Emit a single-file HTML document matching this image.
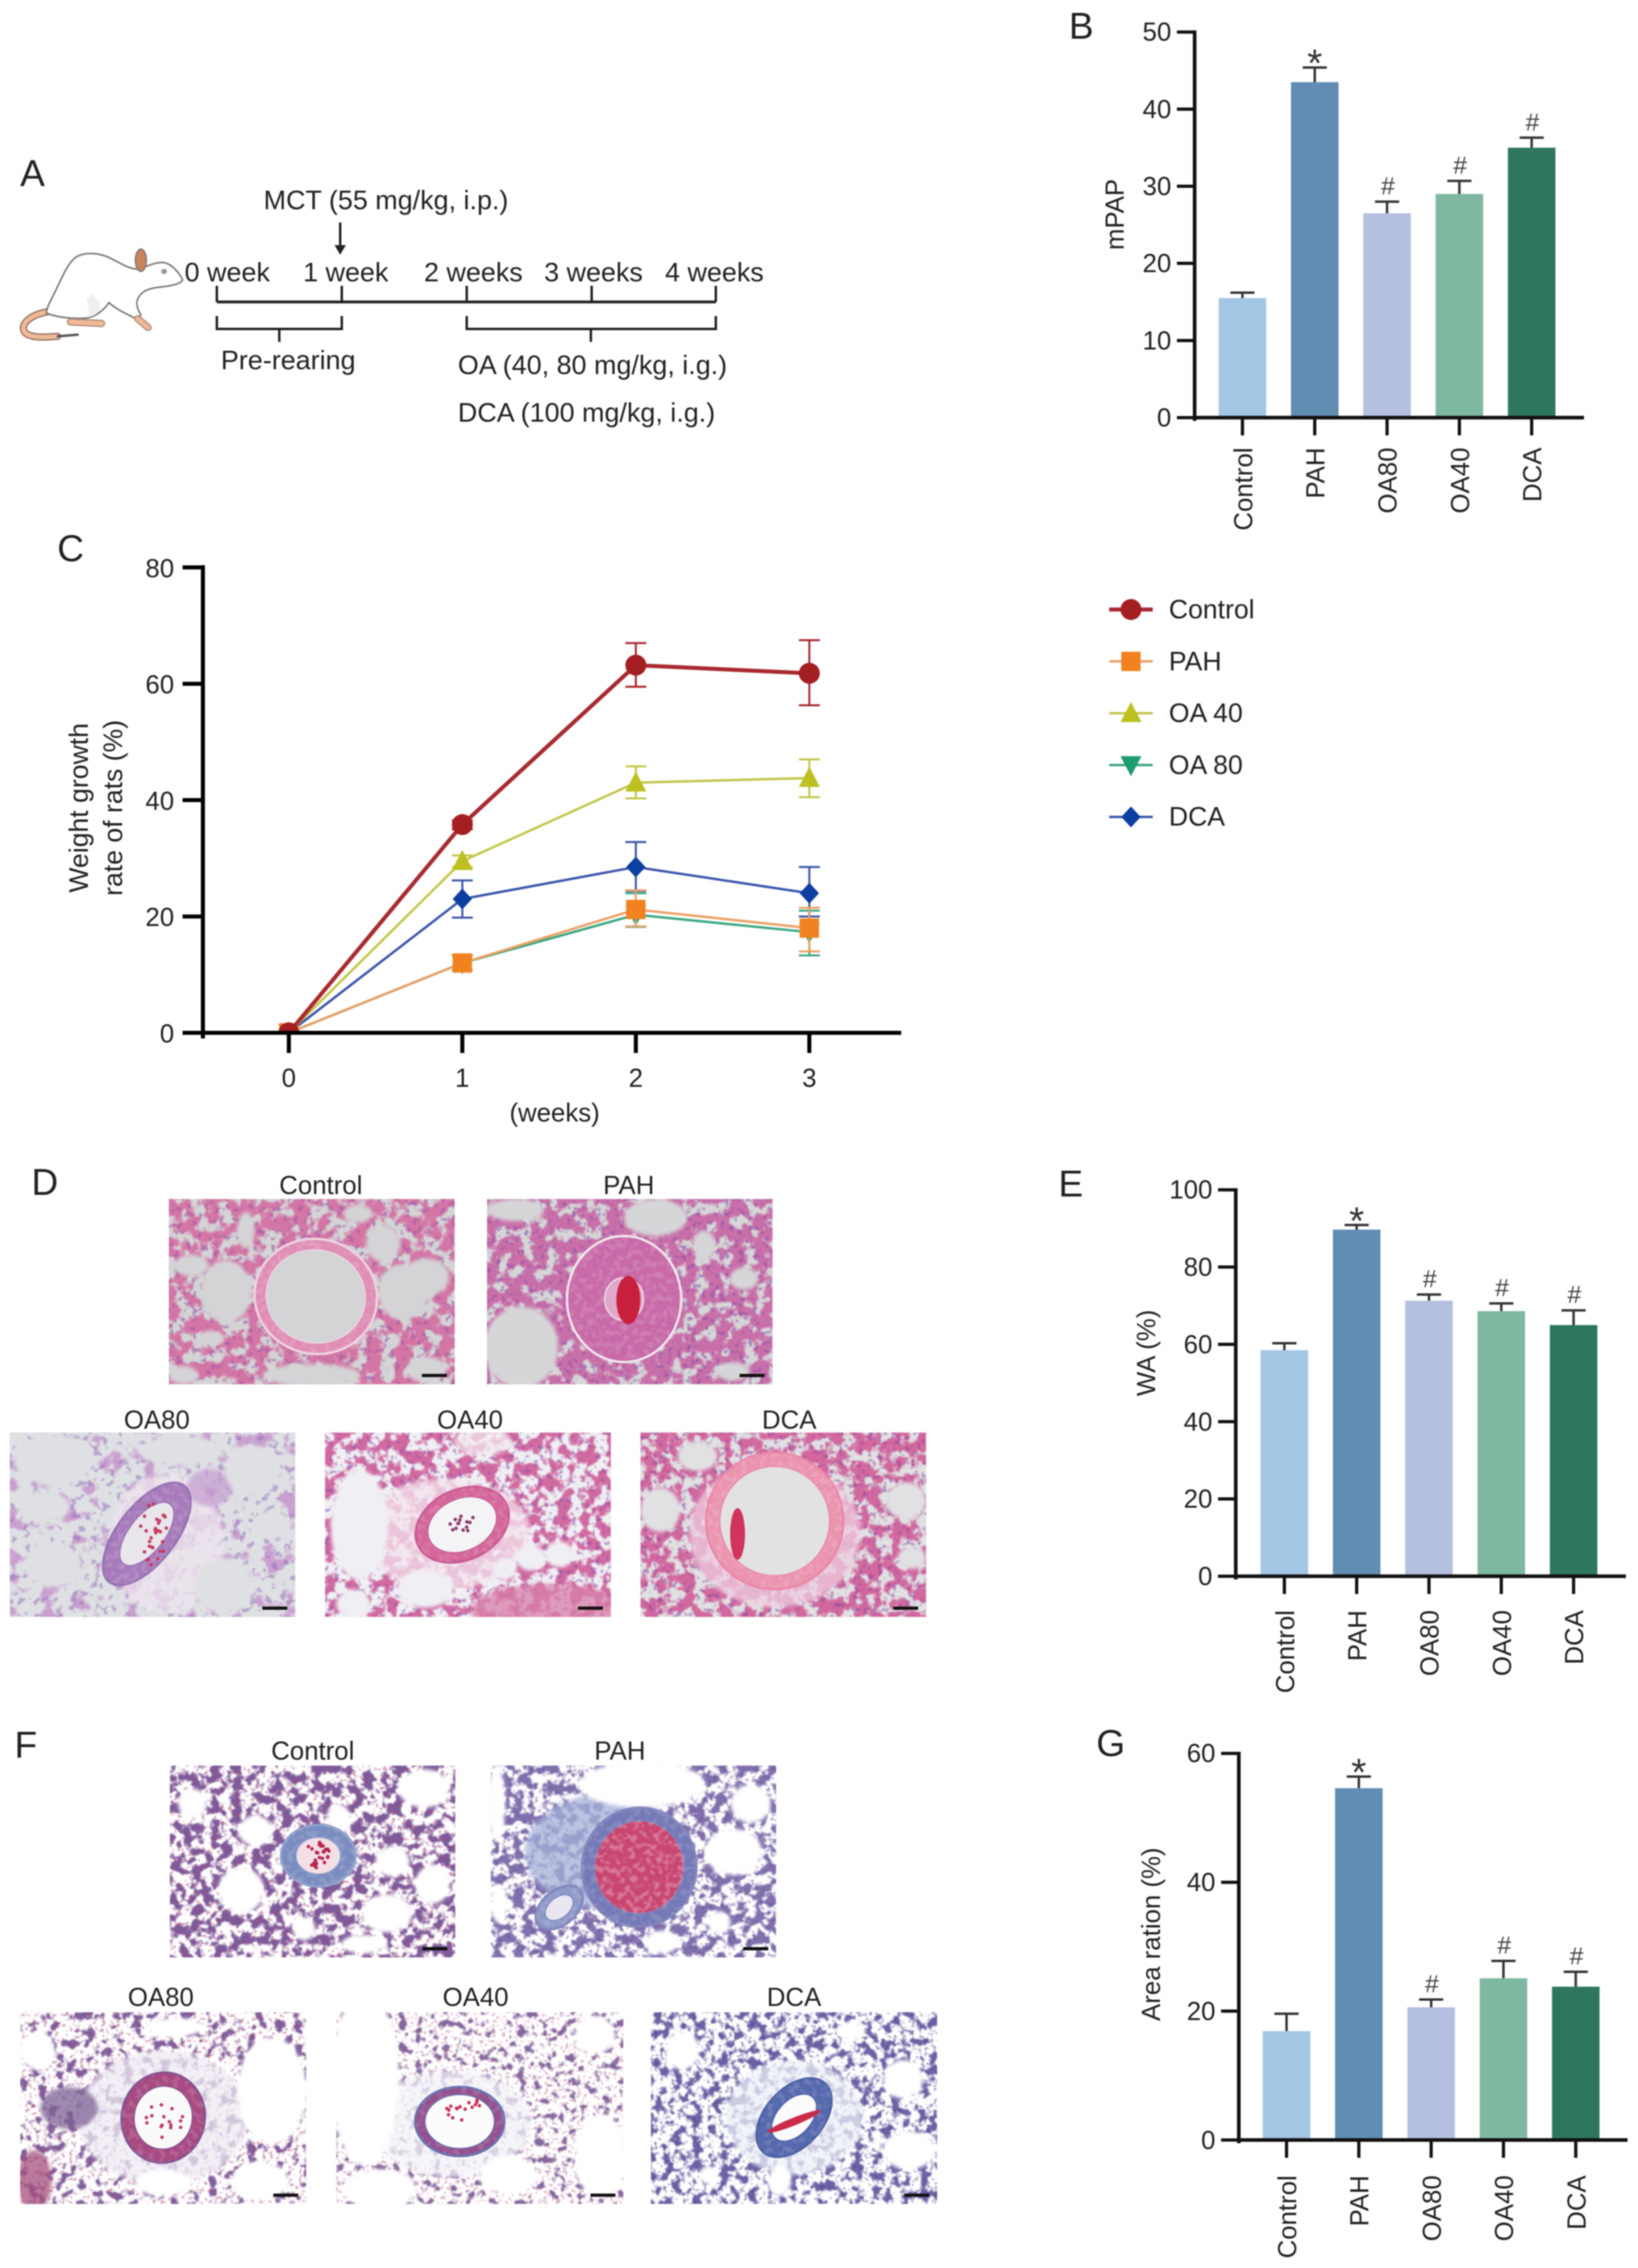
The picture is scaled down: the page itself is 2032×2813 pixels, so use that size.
<!DOCTYPE html>
<html lang="en">
<head>
<meta charset="utf-8">
<title>Multi-panel figure: mPAP, weight growth, histology, WA and area ratio</title>
<style>
html,body{margin:0;padding:0;background:#fff;}
body{width:2032px;height:2813px;overflow:hidden;}
#figure{display:block;filter:blur(.7px);}
text{font-family:"Liberation Sans",sans-serif;fill:#222;font-size:32px;}
.panel-letter{font-size:46px;}
.a-text{font-size:33.4px;}
</style>
</head>
<body>
<svg id="figure" xmlns="http://www.w3.org/2000/svg" width="2032" height="2813" viewBox="0 0 2032 2813">
  <defs id="defs"></defs>
  <rect width="2032" height="2813" fill="#fff"/>

  <text class="panel-letter" x="25" y="231">A</text>
  <text class="panel-letter" x="1326" y="48">B</text>
  <text class="panel-letter" x="71" y="696">C</text>
  <text class="panel-letter" x="39" y="1482">D</text>
  <text class="panel-letter" x="1313" y="1484">E</text>
  <text class="panel-letter" x="18" y="2180">F</text>
  <text class="panel-letter" x="1360" y="2178">G</text>

  <g id="rat" transform="translate(0 150) scale(.993) translate(0 -150)">
    <path d="M61 388 C38 392 24 404 31 414 C38 422 60 420 72 419" fill="none" stroke="#8a6a5a" stroke-width="9" stroke-linecap="round"/>
    <path d="M61 388 C38 392 24 404 31 414 C38 422 60 420 72 419" fill="none" stroke="#efb998" stroke-width="6" stroke-linecap="round"/>
    <path d="M72 419 L97 417" fill="none" stroke="#555" stroke-width="3" stroke-linecap="round"/>
    <path d="M228 348 C222 336 212 328 205 327 C195 325 182 333 172 335 C160 335 148 326 135 320 C120 314 105 314 95 320 C84 328 78 345 68 365 C62 377 58 384 58 390 C70 395 90 398 110 396 C120 394 130 386 136 377 C146 386 160 392 172 398 L176 392 C168 380 170 370 180 363 C190 357 205 358 216 355 C224 353 228 351 228 348 Z" fill="#fff" stroke="#777" stroke-width="2"/>
    <path d="M116 366 C126 378 132 388 112 395 L108 372 Z" fill="#efefef"/>
    <path d="M88 401 L127 403" stroke="#a98873" stroke-width="9" stroke-linecap="round"/>
    <path d="M88 401 L127 403" stroke="#efb998" stroke-width="6" stroke-linecap="round"/>
    <path d="M172 397 L185 408" stroke="#a98873" stroke-width="9" stroke-linecap="round"/>
    <path d="M172 397 L185 408" stroke="#efb998" stroke-width="6" stroke-linecap="round"/>
    <ellipse cx="176" cy="324" rx="7" ry="14" fill="#c9835c" stroke="#777" stroke-width="1.5"/>
    <circle cx="205" cy="338" r="3.5" fill="#999"/>
  </g>

  <g id="timeline" stroke="#222" stroke-width="3" fill="none">
    <path d="M269 374.5 H888" stroke-width="3.5"/>
    <path d="M269 354.5 V374.5 M424 354.5 V374.5 M579 354.5 V374.5 M734 354.5 V374.5 M888 354.5 V374.5"/>
    <path d="M269 392 V408 H424 V392 M346.5 408 V424"/>
    <path d="M579 392 V408 H888 V392 M733 408 V424"/>
    <path d="M422 276 V313"/>
    <path d="M415 304 L422 316 L429 304 Z" fill="#222" stroke="none"/>
  </g>
  <text class="a-text" x="327" y="259.5">MCT (55 mg/kg, i.p.)</text>
  <text class="a-text" x="229" y="349">0 week</text>
  <text class="a-text" x="376" y="349">1 week</text>
  <text class="a-text" x="526" y="349">2 weeks</text>
  <text class="a-text" x="675" y="349">3 weeks</text>
  <text class="a-text" x="825" y="349">4 weeks</text>
  <text class="a-text" x="274" y="458">Pre-rearing</text>
  <text class="a-text" x="568" y="464">OA (40, 80 mg/kg, i.g.)</text>
  <text class="a-text" x="568" y="523">DCA (100 mg/kg, i.g.)</text>

  <g id="micrographs"></g>
  <g id="chart-b"></g>
  <g id="chart-c"></g>
  <g id="legend-c"></g>
  <g id="chart-e"></g>
  <g id="chart-g"></g>
</svg>

<script>
// ---------- chart data ----------
const barCategories = ['Control', 'PAH', 'OA80', 'OA40', 'DCA'];
const barMarks = ['', '*', '#', '#', '#'];

const mpapTicks = [0, 10, 20, 30, 40, 50];
const mpapValues = [15.5, 43.5, 26.5, 29, 35];
const mpapErrorTops = [16.2, 45.4, 28, 30.7, 36.3];

const waTicks = [0, 20, 40, 60, 80, 100];
const waValues = [58.5, 89.7, 71.3, 68.6, 65];
const waErrorTops = [60.3, 90.9, 72.9, 70.6, 68.8];

const areaTicks = [0, 20, 40, 60];
const areaValues = [16.9, 54.6, 20.6, 25.1, 23.8];
const areaErrorTops = [19.6, 56.4, 21.8, 27.8, 26.1];

const weekCategories = [0, 1, 2, 3];
const weightTicks = [0, 20, 40, 60, 80];

const controlValues = [0, 35.8, 63.2, 61.8];
const controlUpper = [0, 36.5, 67, 67.5];
const controlLower = [0, 35, 59.5, 56.3];

const pahValues = [0, 12, 21.2, 18];
const pahUpper = [0, 13.2, 24.5, 21.5];
const pahLower = [0, 10.8, 18.3, 14];

const oa40Values = [0, 29.5, 43, 43.8];
const oa40Upper = [0, 30.5, 45.8, 47];
const oa40Lower = [0, 28.5, 40.3, 40.5];

const oa80Values = [0, 12, 20.3, 17.3];
const oa80Upper = [0, 13.4, 24, 21];
const oa80Lower = [0, 10.8, 18.2, 13.3];

const dcaValues = [0, 23, 28.5, 24];
const dcaUpper = [0, 26.2, 32.8, 28.5];
const dcaLower = [0, 19.8, 24.4, 20];

// ---------- helpers ----------
const NS = 'http://www.w3.org/2000/svg';
function el(parent, tag, attrs, txt) {
  const n = document.createElementNS(NS, tag);
  for (const k in attrs) n.setAttribute(k, attrs[k]);
  if (txt !== undefined) n.textContent = txt;
  parent.appendChild(n);
  return n;
}
const barColors = ['#a3c6e5', '#628db3', '#b5bfe0', '#7fb8a0', '#2e775c'];

function drawBarChart(rootId, cfg, ticks, values, tops, yTitle) {
  const root = document.getElementById(rootId);
  const domainMax = ticks[ticks.length - 1];
  const y = v => cfg.y0 + (cfg.yTop - cfg.y0) * (v / domainMax);
  const x = i => cfg.firstX + i * cfg.stepX;

  values.forEach((v, i) => {
    const bar = el(root, 'rect', { x: x(i) - 29.5, y: y(v), width: 59, height: y(0) - y(v), fill: barColors[i] });
    
    
    const err = el(root, 'path', { d: 'M' + x(i) + ' ' + y(v) + ' V' + y(tops[i]) + ' M' + (x(i) - 15) + ' ' + y(tops[i]) + ' H' + (x(i) + 15), stroke: '#333', 'stroke-width': 3, fill: 'none' });
    
    
    const mark = barMarks[i];
    if (mark === '*') {
      const star = el(root, 'text', { x: x(i), y: y(tops[i]) + 11, 'text-anchor': 'middle', style: 'font-size:48px;fill:#333' }, mark);
      
      
    } else if (mark === '#') {
      const hash = el(root, 'text', { x: x(i) + 1, y: y(tops[i]) - 9, 'text-anchor': 'middle', style: 'font-size:31px;fill:#444' }, mark);
      
      
    }
    const tick = el(root, 'path', { d: 'M' + x(i) + ' ' + y(0) + ' V' + (y(0) + 22), stroke: '#111', 'stroke-width': 4 });
    
    
    const lab = el(root, 'text', { transform: 'translate(' + (x(i) + 12) + ' ' + cfg.labelTop + ') rotate(-90)', 'text-anchor': 'end' }, barCategories[i]);
    
    
  });

  ticks.forEach(t => {
    const tk = el(root, 'path', { d: 'M' + (cfg.axisX - 22) + ' ' + y(t) + ' H' + cfg.axisX, stroke: '#111', 'stroke-width': 4 });
    
    
    const lb = el(root, 'text', { x: cfg.axisX - 29, y: y(t) + 11, 'text-anchor': 'end' }, String(t));
    
    
  });

  const yAxis = el(root, 'path', { d: 'M' + cfg.axisX + ' ' + (y(domainMax) - 2) + ' V' + (y(0) + 4), stroke: '#111', 'stroke-width': 4.5 });
  
  
  const xAxis = el(root, 'path', { d: 'M' + cfg.axisX + ' ' + y(0) + ' H' + cfg.axisEnd, stroke: '#111', 'stroke-width': 4.5 });
  
  

  const title = el(root, 'text', { transform: 'translate(' + cfg.titleX + ' ' + cfg.titleY + ') rotate(-90)', 'text-anchor': 'middle' }, yTitle);
  
  
}

drawBarChart('chart-b', { axisX: 1482, axisEnd: 1965, y0: 518, yTop: 39.7, firstX: 1541.3, stepX: 89.7, labelTop: 555, titleX: 1394, titleY: 266 }, mpapTicks, mpapValues, mpapErrorTops, 'mPAP');
drawBarChart('chart-e', { axisX: 1533, axisEnd: 2017, y0: 1955, yTop: 1475.7, firstX: 1593.3, stepX: 89.7, labelTop: 1997, titleX: 1433, titleY: 1678 }, waTicks, waValues, waErrorTops, 'WA (%)');
drawBarChart('chart-g', { axisX: 1536.8, axisEnd: 2019, y0: 2654.3, yTop: 2174.7, firstX: 1596, stepX: 89.7, labelTop: 2698, titleX: 1439, titleY: 2399 }, areaTicks, areaValues, areaErrorTops, 'Area ration (%)');

// ---------- line chart ----------
const cRoot = document.getElementById('chart-c');
const cY = v => 1281 + (703.8 - 1281) * (v / weightTicks[weightTicks.length - 1]);
const cX = w => 358.3 + (1004 - 358.3) * (w / weekCategories[weekCategories.length - 1]);

const plotClip = el(document.getElementById('defs'), 'clipPath', { id: 'plot-clip' });
el(plotClip, 'rect', { x: 253, y: 600, width: 880, height: 681 });

function drawMarker(parent, shape, cx, cy, fill) {
  let m;
  if (shape === 'circle') m = el(parent, 'circle', { cx: cx, cy: cy, r: 13, fill: fill });
  if (shape === 'square') m = el(parent, 'rect', { x: cx - 12, y: cy - 12, width: 24, height: 24, fill: fill });
  if (shape === 'up') m = el(parent, 'path', { d: 'M' + cx + ' ' + (cy - 14) + ' L' + (cx + 13) + ' ' + (cy + 11) + ' H' + (cx - 13) + ' Z', fill: fill });
  if (shape === 'down') m = el(parent, 'path', { d: 'M' + cx + ' ' + (cy + 14) + ' L' + (cx + 13) + ' ' + (cy - 11) + ' H' + (cx - 13) + ' Z', fill: fill });
  if (shape === 'diamond') m = el(parent, 'path', { d: 'M' + cx + ' ' + (cy - 13) + ' L' + (cx + 12) + ' ' + cy + ' L' + cx + ' ' + (cy + 13) + ' L' + (cx - 12) + ' ' + cy + ' Z', fill: fill });
  return m;
}

function drawSeries(name, values, upper, lower, lineColor, markColor, shape, width) {
  const g = el(cRoot, 'g', { 'clip-path': 'url(#plot-clip)' });
  
  
  const pts = weekCategories.map((w, i) => cX(w) + ',' + cY(values[i])).join(' ');
  weekCategories.forEach((w, i) => {
    if (upper[i] - lower[i] <= 0) return;
    const x = cX(w);
    const e = el(g, 'path', { d: 'M' + x + ' ' + cY(lower[i]) + ' V' + cY(upper[i]) + ' M' + (x - 13) + ' ' + cY(upper[i]) + ' H' + (x + 13) + ' M' + (x - 13) + ' ' + cY(lower[i]) + ' H' + (x + 13), stroke: lineColor, 'stroke-width': 2.5, fill: 'none' });
    
    
  });
  const line = el(g, 'polyline', { points: pts, fill: 'none', stroke: lineColor, 'stroke-width': width });
  
  
  weekCategories.forEach((w, i) => {
    const pt = drawMarker(g, shape, cX(w), cY(values[i]), markColor);
    
    
  });
}

drawSeries('oa-80', oa80Values, oa80Upper, oa80Lower, '#3aa882', '#1f9b6e', 'down', 3);
drawSeries('dca', dcaValues, dcaUpper, dcaLower, '#3a55ab', '#0d3fa0', 'diamond', 3);
drawSeries('oa-40', oa40Values, oa40Upper, oa40Lower, '#c3c64a', '#bcc021', 'up', 3);
drawSeries('pah', pahValues, pahUpper, pahLower, '#eba066', '#f28220', 'square', 3);
drawSeries('control', controlValues, controlUpper, controlLower, '#a82a30', '#a41e22', 'circle', 5);

weightTicks.forEach(t => {
  const tk = el(cRoot, 'path', { d: 'M226.5 ' + cY(t) + ' H252', stroke: '#000', 'stroke-width': 5 });
  
  
  const lb = el(cRoot, 'text', { x: 216, y: cY(t) + 12, 'text-anchor': 'end' }, String(t));
  
  
});
weekCategories.forEach(w => {
  const tk = el(cRoot, 'path', { d: 'M' + cX(w) + ' 1281 V1306', stroke: '#000', 'stroke-width': 5 });
  
  
  const lb = el(cRoot, 'text', { x: cX(w), y: 1348, 'text-anchor': 'middle' }, String(w));
  
  
});
const cYAxis = el(cRoot, 'path', { d: 'M251.7 701 V1288', stroke: '#000', 'stroke-width': 5 });


const cXAxis = el(cRoot, 'path', { d: 'M251.7 1281 H1118', stroke: '#000', 'stroke-width': 5 });


const cXTitle = el(cRoot, 'text', { x: 688, y: 1391, 'text-anchor': 'middle' }, '(weeks)');


const cT1 = el(cRoot, 'text', { transform: 'translate(109 1002) rotate(-90)', 'text-anchor': 'middle', style: 'font-size:33px' }, 'Weight growth');


const cT2 = el(cRoot, 'text', { transform: 'translate(151.5 1002) rotate(-90)', 'text-anchor': 'middle', style: 'font-size:33px' }, 'rate of rats (%)');



// ---------- legend ----------
const legendNames = ['Control', 'PAH', 'OA 40', 'OA 80', 'DCA'];
const legendLines = ['#a82a30', '#eba066', '#c3c64a', '#3aa882', '#3a55ab'];
const legendFills = ['#a41e22', '#f28220', '#bcc021', '#1f9b6e', '#0d3fa0'];
const legendShapes = ['circle', 'square', 'up', 'down', 'diamond'];
const legendRoot = document.getElementById('legend-c');
legendNames.forEach((name, i) => {
  const ly = 756 + i * 64.3;
  const entry = el(legendRoot, 'g', {});
  
  
  el(entry, 'path', { d: 'M1376 ' + ly + ' H1430', stroke: legendLines[i], 'stroke-width': i === 0 ? 5 : 3 });
  drawMarker(entry, legendShapes[i], 1403, ly, legendFills[i]);
  el(entry, 'text', { x: 1450, y: ly + 11, style: 'font-size:33px' }, name);
});

// ---------- micrographs (decorative procedural tissue) ----------
const defs = document.getElementById('defs');
const microRoot = document.getElementById('micrographs');
let seedState = 12345;
function rnd() { seedState = (seedState * 16807) % 2147483647; return seedState / 2147483647; }

const panels = [
 { name:'d-control', title:'Control', tx:398, ty:1481, x:209.3, y:1487, w:355, h:230, bg:'#d4d4d6', tissue:'#d476a5', nuc:'#9a55a5', nucOp:.6, thr:.42, freq:.055, seed:3,
   holes:[[.2,.5,.09,.17],[.08,.36,.06,.06],[.82,.5,.09,.15],[.75,.24,.06,.1],[.9,.42,.08,.1],[.9,.92,.07,.07],[.5,.95,.17,.06],[.05,.95,.05,.05],[.27,.17,.03,.1],[.15,.75,.04,.04],[.66,.08,.05,.05]],
   rings:[{u:.514,v:.526,ru:.215,rv:.31,rot:12,wall:'#e08db4',stroke:'#eed3e0',lumen:'#d4d4d6',ls:.81}] },
 { name:'d-pah', title:'PAH', tx:780, ty:1481, x:604, y:1487, w:354.5, h:230, bg:'#d6d6d8', tissue:'#c96fa8', nuc:'#8a4ea8', nucOp:.6, thr:.38, freq:.065, seed:7,
   holes:[[.12,.8,.13,.22],[.59,.1,.11,.1],[.1,.06,.1,.06],[.9,.43,.05,.06],[.76,.25,.04,.08],[.86,.93,.06,.05]],
   rings:[{u:.48,v:.54,ru:.2,rv:.34,rot:0,wall:'#c86aa8',stroke:'#f1e6ee',lumen:'#dfa8cc',ls:.34,red:{u:.495,v:.545,ru:.042,rv:.13,c:'#c8203c',n:0}}] },
 { name:'d-oa80', title:'OA80', tx:194.5, ty:1772, x:12, y:1776.6, w:354.4, h:229, bg:'#dfe0e4', tissue:'#c9a0cf', nuc:'#8f68b4', nucOp:.5, thr:.55, freq:.04, seed:11,
   holes:[[.155,.15,.14,.14],[.6,.1,.15,.08],[.85,.2,.1,.13],[.15,.72,.1,.12],[.75,.83,.1,.15],[.92,.5,.06,.08],[.12,.4,.09,.08]],
   extra:[[.55,.6,.2,.38,'#eee4ee'],[.7,.3,.08,.1,'#c6a0d0']],
   rings:[{u:.48,v:.55,ru:.1,rv:.33,rot:38,wall:'#a77bbb',stroke:'#9670b0',lumen:'#e9e6ec',ls:.62,red:{u:.5,v:.54,ru:.05,rv:.2,c:'#c83a60',n:30}}] },
 { name:'d-oa40', title:'OA40', tx:583, ty:1772, x:403, y:1776.6, w:355, h:229, bg:'#f0f0f4', tissue:'#d16aa0', nuc:'#8a4ea8', nucOp:.55, thr:.45, freq:.065, seed:17,
   holes:[[.12,.5,.1,.3],[.35,.85,.1,.1],[.72,.68,.05,.07],[.82,.66,.05,.07],[.63,.74,.04,.06],[.1,.93,.06,.08]],
   extra:[[.42,.55,.3,.3,'#f6e4ee'],[.78,.97,.27,.15,'#d982ab'],[.55,.05,.1,.08,'#f4e8ef']],
   rings:[{u:.48,v:.5,ru:.17,rv:.19,rot:-25,wall:'#d4669a',stroke:'#c85a92',lumen:'#f4f4f7',ls:.74,red:{u:.48,v:.5,ru:.05,rv:.06,c:'#8c3868',n:14}}] },
 { name:'d-dca', title:'DCA', tx:979, ty:1772, x:794.4, y:1776.6, w:354.6, h:229, bg:'#e1e1e3', tissue:'#d2689e', nuc:'#8548a0', nucOp:.55, thr:.42, freq:.065, seed:23,
   holes:[[.2,.13,.07,.08],[.07,.42,.07,.12],[.93,.37,.07,.1],[.95,.68,.05,.06]],
   extra:[[.47,.55,.3,.4,'#f0cfe0']],
   rings:[{u:.47,v:.48,ru:.24,rv:.37,rot:5,wall:'#eb94b0',stroke:'#ea87a8',lumen:'#e2e2e2',ls:.8,red:{u:.34,v:.55,ru:.026,rv:.14,c:'#d0345c',n:0}}] },
 { name:'f-control', title:'Control', tx:388, ty:2182.5, x:210.5, y:2189.6, w:354.5, h:238.4, bg:'#ffffff', tissue:'#7d5a9a', nuc:'#a84a7a', nucOp:.55, thr:.46, freq:.08, seed:31,
   holes:[[.25,.65,.08,.12],[.76,.77,.09,.1],[.89,.12,.09,.1],[.59,.27,.04,.07],[.08,.2,.05,.08],[.78,.5,.06,.08],[.3,.34,.06,.08],[.47,.85,.04,.06],[.68,.93,.08,.05],[.92,.62,.06,.1]],
   rings:[{u:.52,v:.47,ru:.13,rv:.16,rot:0,wall:'#7a8cbf',stroke:'#8ea0cc',lumen:'#f3dfe6',ls:.6,red:{u:.52,v:.47,ru:.05,rv:.07,c:'#b8254e',n:30}}] },
 { name:'f-pah', title:'PAH', tx:769, ty:2182.5, x:608.7, y:2189.6, w:354.3, h:238.4, bg:'#ffffff', tissue:'#8070ac', nuc:'#6a4a96', nucOp:.5, thr:.46, freq:.08, seed:37,
   holes:[[.53,.1,.22,.12],[.85,.45,.1,.12],[.91,.2,.07,.1],[.03,.72,.03,.1],[.8,.82,.04,.06],[.6,.92,.06,.06],[.02,.2,.03,.2]],
   extra:[[.4,.45,.28,.3,'#a6b1d8']],
   rings:[{u:.52,v:.53,ru:.2,rv:.31,rot:8,wall:'#7478b6',stroke:'#8184bc',lumen:'#c8466f',ls:.78,lumenMottle:true},{u:.24,v:.74,ru:.06,rv:.14,rot:50,wall:'#8f9ac8',stroke:'#8186bc',lumen:'#e9e6f1',ls:.6}] },
 { name:'f-oa80', title:'OA80', tx:199.5, ty:2488, x:25, y:2495.5, w:355, h:238.2, bg:'#ffffff', tissue:'#7e5e9c', nuc:'#a84a72', nucOp:.5, thr:.54, freq:.085, seed:41,
   holes:[[.88,.41,.12,.28],[.06,.2,.06,.1],[.5,.89,.1,.07],[.84,.88,.1,.1],[.54,.08,.1,.05]],
   extra:[[.5,.55,.3,.35,'#eeebf3'],[.05,.88,.06,.16,'#a5507c'],[.17,.5,.1,.11,'#7d6396']],
   rings:[{u:.5,v:.55,ru:.145,rv:.235,rot:10,wall:'#a84a82',stroke:'#85508f',lumen:'#fafafa',ls:.7,red:{u:.5,v:.55,ru:.07,rv:.12,c:'#c03a66',n:16}}] },
 { name:'f-oa40', title:'OA40', tx:590, ty:2488, x:417, y:2495.5, w:356.5, h:238.2, bg:'#ffffff', tissue:'#82689f', nuc:'#a84a72', nucOp:.45, thr:.56, freq:.095, seed:47,
   holes:[[.1,.35,.12,.45],[.92,.75,.09,.22],[.15,.92,.13,.1],[.6,.85,.1,.1],[.9,.12,.07,.1]],
   extra:[[.4,.58,.28,.28,'#f3f3f9']],
   rings:[{u:.43,v:.57,ru:.155,rv:.18,rot:0,wall:'#94508e',stroke:'#6a70ae',lumen:'#fcfcfc',ls:.78,red:{u:.45,v:.52,ru:.07,rv:.09,c:'#c83058',n:16}}] },
 { name:'f-dca', title:'DCA', tx:985, ty:2488, x:807.3, y:2495.5, w:355.5, h:238.2, bg:'#ffffff', tissue:'#6a62a4', nuc:'#4a3f88', nucOp:.5, thr:.5, freq:.085, seed:53,
   holes:[[.11,.2,.06,.1],[.88,.35,.07,.1],[.9,.72,.09,.1],[.45,.88,.04,.08],[.2,.85,.03,.05],[.7,.1,.05,.05]],
   extra:[[.5,.55,.24,.3,'#edf1f7']],
   rings:[{u:.5,v:.55,ru:.1,rv:.24,rot:42,wall:'#5668ae',stroke:'#4e60a4',lumen:'#fbfbfb',ls:.6,red:{u:.5,v:.57,ru:.1,rv:.02,c:'#cc2a4a',n:0,rot:-22}}] }
];

function makeFilter(id, p, freq, thr, k, seed, blur) {
  const f = el(defs, 'filter', { id: id, filterUnits: 'userSpaceOnUse', x: p.x, y: p.y, width: p.w, height: p.h, 'color-interpolation-filters': 'sRGB' });
  el(f, 'feTurbulence', { type: 'fractalNoise', baseFrequency: freq, numOctaves: 3, seed: seed, result: 'n' });
  el(f, 'feColorMatrix', { in: 'n', type: 'matrix', values: '0 0 0 0 0 0 0 0 0 0 0 0 0 0 0 0 0 0 ' + k + ' ' + (-k * thr), result: 'm0' });
  el(f, 'feGaussianBlur', { in: 'm0', stdDeviation: blur, result: 'm' });
  el(f, 'feComposite', { in: 'SourceGraphic', in2: 'm', operator: 'in' });
}

const softBlur = el(defs, 'filter', { id: 'soft', x: '-30%', y: '-30%', width: '160%', height: '160%' });
el(softBlur, 'feGaussianBlur', { stdDeviation: 2.5 });

panels.forEach(p => {
  const clip = el(defs, 'clipPath', { id: 'clip-' + p.name });
  el(clip, 'rect', { x: p.x, y: p.y, width: p.w, height: p.h });
  makeFilter('tissue-' + p.name, p, p.freq, p.thr, 9, p.seed, .8);
  makeFilter('nuclei-' + p.name, p, p.freq * 2.6, .6, 12, p.seed + 2, .6);
  makeFilter('mottle-' + p.name, p, .14, .5, 8, p.seed + 5, .8);

  const label = el(microRoot, 'text', { x: p.tx, y: p.ty, 'text-anchor': 'middle' }, p.title);
  
  

  const g = el(microRoot, 'g', { 'clip-path': 'url(#clip-' + p.name + ')' });
  
  

  el(g, 'rect', { x: p.x, y: p.y, width: p.w, height: p.h, fill: p.bg });
  el(g, 'rect', { x: p.x, y: p.y, width: p.w, height: p.h, fill: p.tissue, filter: 'url(#tissue-' + p.name + ')' });
  el(g, 'rect', { x: p.x, y: p.y, width: p.w, height: p.h, fill: p.nuc, opacity: p.nucOp, filter: 'url(#nuclei-' + p.name + ')' });

  const ex = u => p.x + u * p.w;
  const ey = v => p.y + v * p.h;
  (p.extra || []).forEach(e => {
    el(g, 'ellipse', { cx: ex(e[0]), cy: ey(e[1]), rx: e[2] * p.w, ry: e[3] * p.h, fill: e[4], opacity: .75, filter: 'url(#soft)' });
  });
  p.holes.forEach(h => {
    el(g, 'ellipse', { cx: ex(h[0]), cy: ey(h[1]), rx: h[2] * p.w, ry: h[3] * p.h, fill: p.bg, filter: 'url(#soft)' });
  });
  p.rings.forEach(r => {
    const tf = 'rotate(' + r.rot + ' ' + ex(r.u) + ' ' + ey(r.v) + ')';
    const rx = r.ru * p.w, ry = r.rv * p.h;
    el(g, 'ellipse', { cx: ex(r.u), cy: ey(r.v), rx: rx, ry: ry, fill: r.wall, stroke: r.stroke, 'stroke-width': 3, transform: tf });
    const mottleId = 'mottle-' + p.name;
    el(g, 'ellipse', { cx: ex(r.u), cy: ey(r.v), rx: rx, ry: ry, fill: '#fff', opacity: .14, filter: 'url(#' + mottleId + ')', transform: tf });
    el(g, 'ellipse', { cx: ex(r.u), cy: ey(r.v), rx: rx * r.ls, ry: ry * r.ls, fill: r.lumen, stroke: r.stroke, 'stroke-width': 1.5, transform: tf });
    if (r.lumenMottle) {
      el(g, 'ellipse', { cx: ex(r.u), cy: ey(r.v), rx: rx * r.ls, ry: ry * r.ls, fill: '#f2c4d2', opacity: .4, filter: 'url(#' + mottleId + ')', transform: tf });
    }
    if (r.red) {
      const cx = ex(r.red.u), cy = ey(r.red.v), rrx = r.red.ru * p.w, rry = r.red.rv * p.h;
      if (r.red.n === 0) {
        el(g, 'ellipse', { cx: cx, cy: cy, rx: rrx, ry: rry, fill: r.red.c, transform: r.red.rot ? 'rotate(' + r.red.rot + ' ' + cx + ' ' + cy + ')' : '' });
      } else {
        for (let i = 0; i < r.red.n; i++) {
          const a = rnd() * 6.283, d = Math.sqrt(rnd());
          el(g, 'circle', { cx: cx + Math.cos(a) * d * rrx, cy: cy + Math.sin(a) * d * rry, r: 2.2, fill: r.red.c });
        }
      }
    }
  });
  const sb = el(g, 'rect', { x: p.x + p.w - 41, y: p.y + p.h - 13, width: 31, height: 4, fill: '#111' });
  
  
});
</script>
</body>
</html>
